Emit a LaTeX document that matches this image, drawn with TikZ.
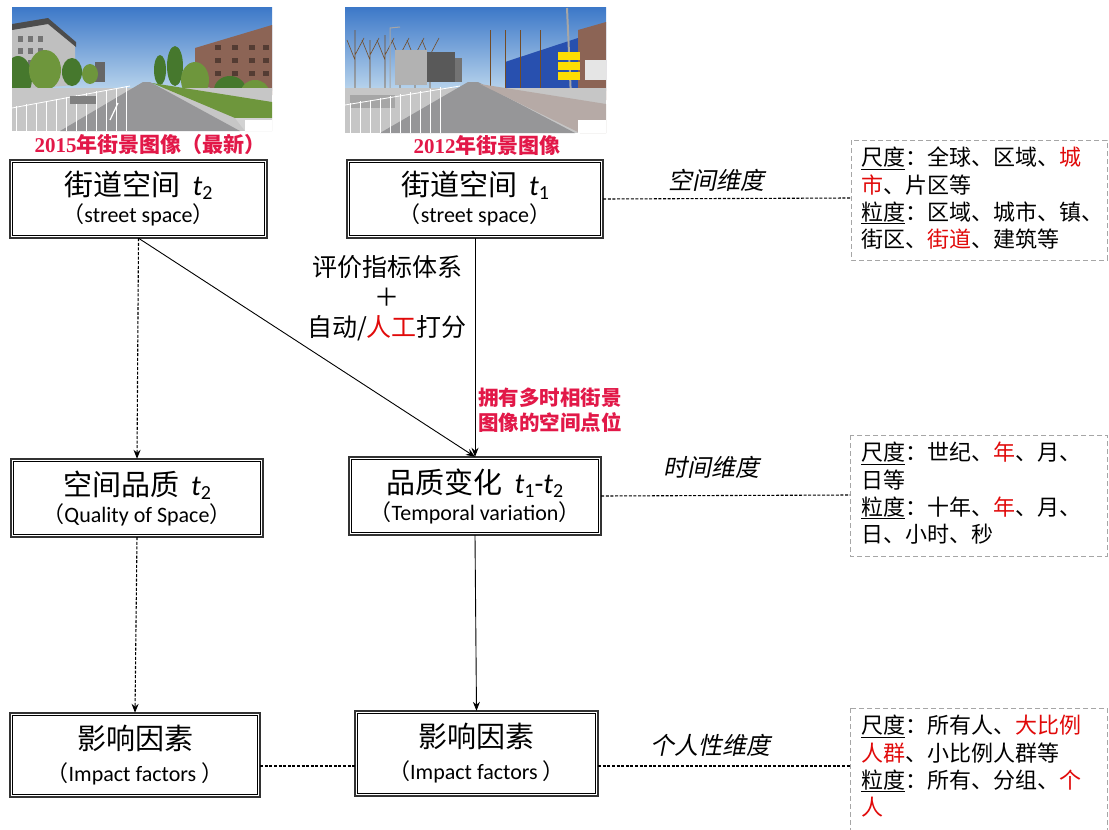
\documentclass[tikz,border=0pt]{standalone}
\usepackage{fontspec}
\usetikzlibrary{arrows.meta,calc}
\setmainfont{Carlito}
\newfontfamily\cjk{Noto Sans CJK SC}
\newfontfamily\cjkit[FakeSlant=0.2]{Noto Sans CJK SC}
\newfontfamily\capser{Liberation Serif}
\definecolor{crim}{RGB}{226,24,72}
\definecolor{myred}{RGB}{225,10,10}
\definecolor{sky1}{RGB}{60,120,200}
\definecolor{sky2}{RGB}{185,212,236}
\definecolor{roadc}{RGB}{150,150,152}
\definecolor{treeg}{RGB}{70,120,45}
\definecolor{treeg2}{RGB}{110,150,60}
\definecolor{bldb}{RGB}{40,80,175}
\definecolor{brick}{RGB}{140,100,85}
\newcommand\ttl[1]{{\cjk #1}\hspace{12pt}}
\newcommand\tv[1]{\textit{t}\raisebox{-4pt}{\fontsize{20}{22}\selectfont #1}}
\newcommand\sline[1]{{\fontsize{22}{24}\selectfont{\cjk （}#1{\cjk ）}}}
\newcommand\ul[1]{\underline{#1}}
\newcommand\rd[1]{\textcolor{myred}{#1}}
\tikzset{
  mbox/.style={align=center, inner sep=0pt, font=\fontsize{29}{34}\selectfont},
  outerline/.style={draw=black!80, line width=1.8pt},
  innerline/.style={draw=black, line width=0.6pt},
  sidebox/.style={draw=gray!70, dash pattern=on 5pt off 3pt, line width=1pt},
  conn/.style={line width=0.9pt, draw=black},
  dconn/.style={line width=1.1pt, draw=black, dash pattern=on 3pt off 1.6pt},
  arr/.style={-{Stealth[length=9pt,width=7pt]}},
  dimlab/.style={font=\fontsize{24}{26}\selectfont\cjkit, inner sep=0pt},
  sidetext/.style={anchor=north west, align=left, inner sep=0pt,
    font=\fontsize{22}{27.3}\selectfont\cjk},
  caption/.style={font=\fontsize{21}{23}\selectfont\bfseries, text=crim, inner sep=0pt},
  redlab/.style={font=\fontsize{20.5}{25}\selectfont\bfseries\cjk, text=crim, align=left, inner sep=0pt, anchor=north west},
}
\begin{document}
\begin{tikzpicture}[x=1pt,y=-1pt]
\useasboundingbox (0,0) rectangle (1109,830);
\fill[white] (0,0) rectangle (1109,830);

% ---------- photo 1 (2015) ----------
\begin{scope}
\clip (12,7) rectangle (272,131);
\shade[top color=sky1, bottom color=sky2] (12,7) rectangle (272,90);
\fill[gray!50] (12,28) -- (48,22) -- (75,45) -- (75,85) -- (12,90) -- cycle;
\fill[black!70] (12,24) -- (48,18) -- (76,42) -- (76,47) -- (48,24) -- (12,30) -- cycle;
\foreach \yy in {36,48,60} {\foreach \xx in {18,28,38} {\fill[black!55] (\xx,\yy) rectangle ++(5,6);}}
\fill[black!60] (95,62) rectangle (105,82);
\fill[brick] (195,48) -- (272,25) -- (272,95) -- (195,86) -- cycle;
\foreach \yy in {45,58,71} {\foreach \xx in {215,232,249,263} {\fill[brick!60!black] (\xx,\yy) rectangle ++(6,5);}}
\fill[treeg] (18,78) ellipse (14 and 22);
\fill[treeg2] (45,70) ellipse (16 and 20);
\fill[treeg] (72,72) ellipse (10 and 14);
\fill[treeg2] (90,74) ellipse (8 and 10);
\fill[treeg] (160,70) ellipse (6 and 15);
\fill[treeg] (175,66) ellipse (8 and 20);
\fill[treeg2] (195,80) ellipse (14 and 18);
\fill[treeg] (230,90) ellipse (16 and 14);
\fill[treeg2] (255,92) ellipse (14 and 12);
\fill[gray!45] (12,88) rectangle (272,131);
\fill[roadc] (143,82) -- (150,82) -- (240,131) -- (60,131) -- cycle;
\fill[treeg2] (152,83) -- (272,102) -- (272,118) -- (235,118) -- cycle;
\fill[gray!35] (235,118) -- (272,118) -- (272,131) -- (245,131) -- cycle;
\draw[white, line width=1.2pt] (110,120) -- (118,103);
\draw[white, line width=0.8pt] (12,108) -- (130,86);
\foreach \xx in {16,26,...,126} {\draw[white, line width=0.8pt] (\xx,131) -- (\xx,{107-0.185*(\xx-12)});}
\fill[black!50] (70,96) rectangle (96,104);
\fill[white] (245,120) rectangle (272,131);
\end{scope}

% ---------- photo 2 (2012) ----------
\begin{scope}
\clip (345,7) rectangle (606,133);
\shade[top color=sky1, bottom color=sky2] (345,7) rectangle (606,90);
\foreach \xx/\hh in {355/30,370/40,385/35,400/50,415/60,430/55} {\draw[brown!60!black, line width=0.6pt] (\xx,88) -- (\xx,\hh) (\xx,60) -- (\xx-8,40) (\xx,55) -- (\xx+9,38);}
\fill[black!65] (427,52) rectangle (455,82);
\fill[black!55] (455,58) rectangle (462,82);
\fill[gray!60] (395,50) rectangle (427,85);
\draw[gray!70, line width=1pt] (390,90) -- (390,28) -- (400,27);
\fill[bldb] (505,62) -- (578,38) -- (580,92) -- (505,88) -- cycle;
\fill[brick] (578,30) -- (606,22) -- (606,100) -- (578,96) -- cycle;
\fill[white!80!gray] (585,60) rectangle (606,80);
\draw[gray!70, line width=2pt] (567,8) -- (572,120);
\fill[yellow!80!orange] (558,52) rectangle (580,60);
\fill[yellow!80!orange] (558,62) rectangle (580,70);
\fill[yellow!80!orange] (558,72) rectangle (580,80);
\foreach \xx in {490,505,520,540} {\draw[brown!60!black, line width=0.6pt] (\xx,90) -- (\xx,30);}
\fill[gray!45] (345,88) rectangle (606,133);
\fill[roadc] (468,82) -- (478,82) -- (575,133) -- (380,133) -- cycle;
\fill[brick!50!gray!60] (480,84) -- (606,104) -- (606,133) -- (580,133) -- cycle;
\fill[gray!70] (350,95) rectangle (395,108);
\foreach \xx in {350,360,...,440} {\draw[white, line width=0.8pt] (\xx,133) -- (\xx,{104-0.18*(\xx-345)});}
\draw[white, line width=0.8pt] (345,105) -- (460,86);
\fill[white] (578,120) rectangle (606,133);
\end{scope}

% ---------- captions ----------
\node[caption] (cap1) at (150,145) {{\capser 2015}\cjk 年街景图像（最新）};
\node[caption] (cap2) at (487,145) {{\capser 2012}\cjk 年街景图像};

% ---------- main boxes ----------
\node[mbox, minimum width=257, minimum height=78] (A) at (138.5,199)
  {\ttl{街道空间}\tv{2}\\[-7pt]\sline{street space}};
\node[mbox, minimum width=256, minimum height=78] (B) at (475,199)
  {\ttl{街道空间}\tv{1}\\[-7pt]\sline{street space}};
\node[mbox, minimum width=252, minimum height=78] (C) at (137,498)
  {\ttl{空间品质}\tv{2}\\[-7pt]\sline{Quality of Space}};
\node[mbox, minimum width=252, minimum height=78] (D) at (475,496)
  {\ttl{品质变化}\tv{1}-\tv{2}\\[-7pt]\sline{Temporal variation}};
\node[mbox, minimum width=250, minimum height=84] (E) at (135,755)
  {{\cjk 影响因素}\\[-2pt]\sline{Impact factors }};
\node[mbox, minimum width=243, minimum height=85] (F) at (476.5,753.5)
  {{\cjk 影响因素}\\[-2pt]\sline{Impact factors }};
\foreach \n in {A,B,C,D,E,F} {
  \draw[outerline] (\n.north west) rectangle (\n.south east);
  \draw[innerline] ($(\n.north west)+(2.8,2.8)$) rectangle ($(\n.south east)+(-2.8,-2.8)$);
}

% ---------- side boxes ----------
\draw[sidebox] (851,140) rectangle (1107,260);
\coordinate (S1) at (851,198);
\node[sidetext] (T1) at (861,147) {\ul{尺度}：全球、区域、\rd{城}\\\rd{市}、片区等\\\ul{粒度}：区域、城市、镇、\\街区、\rd{街道}、建筑等};
\draw[sidebox] (850,435) rectangle (1107,556);
\coordinate (S2) at (850,495);
\node[sidetext] (T2) at (861,442) {\ul{尺度}：世纪、\rd{年}、月、\\日等\\\ul{粒度}：十年、\rd{年}、月、\\日、小时、秒};
\begin{scope}
\clip (0,0) rectangle (1109,830);
\draw[sidebox] (850,708) rectangle (1107,850);
\end{scope}
\coordinate (S3) at (850,766);
\node[sidetext] (T3) at (861,715) {\ul{尺度}：所有人、\rd{大比例}\\\rd{人群}、小比例人群等\\\ul{粒度}：所有、分组、\rd{个}\\\rd{人}};

% ---------- connectors ----------
\draw[conn, arr] (A.south) -- (D.north);
\draw[dconn, arr] (A.south) -- (C.north);
\draw[conn, arr] (B.south) -- (D.north);
\draw[dconn, arr] (C.south) -- (E.north);
\draw[conn, arr] (D.south) -- (F.north);
\draw[dconn] (B.east) -- (S1);
\draw[dconn] (D.east) -- (S2);
\draw[dconn] (E.east |- S3) -- (F.west |- S3);
\draw[dconn] (F.east |- S3) -- (S3);

% ---------- labels ----------
\node[dimlab] (L1) at (716,180) {空间维度};
\node[dimlab] (L2) at (711,467) {时间维度};
\node[dimlab] (L3) at (710,745) {个人性维度};
\node[font=\fontsize{25}{30}\selectfont\cjk, align=center, inner sep=0pt] (M) at (387,298)
  {评价指标体系\\＋\\自动/\textcolor{myred}{人工}打分};
\node[redlab] (R) at (478,388) {拥有多时相街景\\图像的空间点位};
\end{tikzpicture}
\end{document}
